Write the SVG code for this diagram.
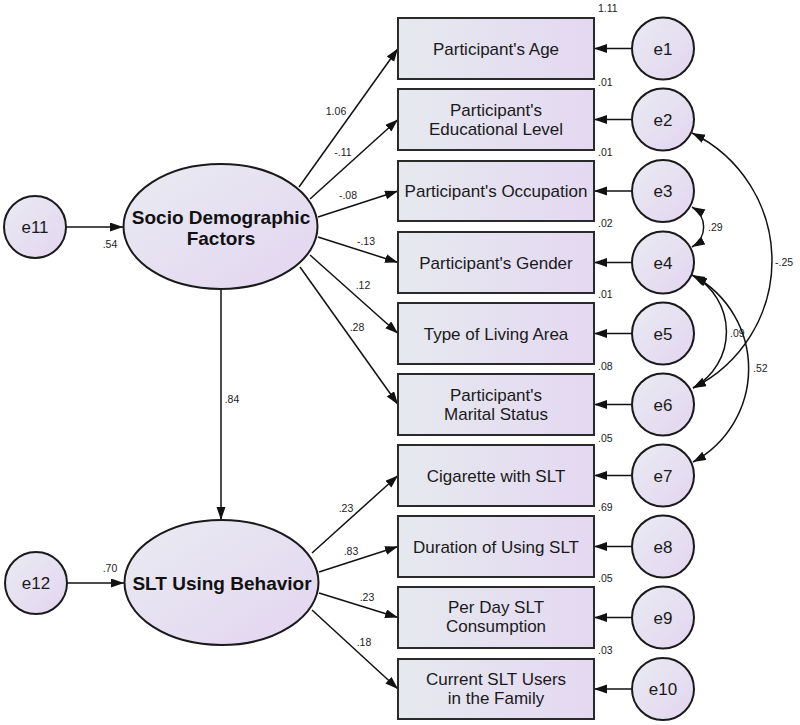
<svg xmlns="http://www.w3.org/2000/svg" width="800" height="725" viewBox="0 0 800 725">
<defs>
<linearGradient id="gBox" x1="0" y1="0" x2="1" y2="0">
<stop offset="0" stop-color="#e6e9ef"/>
<stop offset="1" stop-color="#e4d8f1"/>
</linearGradient>
<linearGradient id="gOv" x1="0" y1="0" x2="1" y2="1">
<stop offset="0" stop-color="#e9ebf2"/>
<stop offset="1" stop-color="#e3d5f0"/>
</linearGradient>
<marker id="ah" markerUnits="userSpaceOnUse" markerWidth="14" markerHeight="10" refX="13" refY="4.5" orient="auto-start-reverse">
<path d="M0,0 L13,4.5 L0,9 z" fill="#111"/>
</marker>
</defs>
<style>
.box{fill:url(#gBox);stroke:#2a2a2a;stroke-width:2}
.ov{fill:url(#gOv);stroke:#1a1a1a;stroke-width:2}
.t{font-family:"Liberation Sans",Arial,sans-serif;font-size:17px;fill:#1a1a1a;text-anchor:middle}
.tb{font-family:"Liberation Sans",Arial,sans-serif;font-size:19px;font-weight:bold;fill:#111;text-anchor:middle}
.n{font-family:"Liberation Sans",Arial,sans-serif;font-size:10.5px;fill:#222;text-anchor:middle}
.r{font-family:"Liberation Sans",Arial,sans-serif;font-size:10.5px;fill:#222;text-anchor:start}
.c{fill:none;stroke:#111;stroke-width:1.5;marker-end:url(#ah)}
.cv{fill:none;stroke:#111;stroke-width:1.5;marker-start:url(#ah);marker-end:url(#ah)}
</style>

<g id="connectors">
<line class="c" x1="66" y1="227" x2="123" y2="227"/>
<line class="c" x1="67" y1="583" x2="124" y2="583"/>
<line class="c" x1="221" y1="289" x2="221" y2="520"/>
<line class="c" x1="299" y1="187" x2="398" y2="48.5"/>
<line class="c" x1="310" y1="199" x2="398" y2="119.5"/>
<line class="c" x1="318" y1="217" x2="398" y2="191"/>
<line class="c" x1="318" y1="237" x2="398" y2="262.5"/>
<line class="c" x1="310" y1="255" x2="398" y2="333.5"/>
<line class="c" x1="300" y1="267" x2="398" y2="404.5"/>
<line class="c" x1="312" y1="553" x2="398" y2="475.5"/>
<line class="c" x1="319" y1="572" x2="398" y2="546.5"/>
<line class="c" x1="319" y1="593" x2="398" y2="617.5"/>
<line class="c" x1="312" y1="610" x2="398" y2="689"/>
<line class="c" x1="632" y1="48.5" x2="594" y2="48.5"/>
<line class="c" x1="632" y1="119.5" x2="594" y2="119.5"/>
<line class="c" x1="632" y1="191" x2="594" y2="191"/>
<line class="c" x1="632" y1="262.5" x2="594" y2="262.5"/>
<line class="c" x1="632" y1="333.5" x2="594" y2="333.5"/>
<line class="c" x1="632" y1="404.5" x2="594" y2="404.5"/>
<line class="c" x1="632" y1="475.5" x2="594" y2="475.5"/>
<line class="c" x1="632" y1="546.5" x2="594" y2="546.5"/>
<line class="c" x1="632" y1="617.5" x2="594" y2="617.5"/>
<line class="c" x1="632" y1="689" x2="594" y2="689"/>
<path class="cv" d="M692,207 A23,23 0 0,1 692,247"/>
<path class="cv" d="M692,133 A142,142 0 0,1 693,388"/>
<path class="cv" d="M692,275 A64,64 0 0,1 693,388"/>
<path class="cv" d="M694,276 A106,106 0 0,1 693,462"/>
</g>

<g id="labels">
<text class="n" x="110" y="248">.54</text>
<text class="n" x="110" y="572">.70</text>
<text class="n" x="232" y="403">.84</text>
<text class="n" x="336" y="115">1.06</text>
<text class="n" x="343" y="156">-.11</text>
<text class="n" x="348" y="199">-.08</text>
<text class="n" x="366" y="245">-.13</text>
<text class="n" x="363" y="289">.12</text>
<text class="n" x="357" y="331">.28</text>
<text class="n" x="346" y="512">.23</text>
<text class="n" x="351" y="555">.83</text>
<text class="n" x="367" y="601">.23</text>
<text class="n" x="364" y="646">.18</text>
<text class="r" x="598" y="12">1.11</text>
<text class="r" x="598" y="86">.01</text>
<text class="r" x="598" y="156">.01</text>
<text class="r" x="598" y="227">.02</text>
<text class="r" x="598" y="298">.01</text>
<text class="r" x="598" y="370">.08</text>
<text class="r" x="598" y="442">.05</text>
<text class="r" x="598" y="511">.69</text>
<text class="r" x="598" y="582">.05</text>
<text class="r" x="598" y="654">.03</text>
<text class="r" x="708" y="231">.29</text>
<text class="r" x="775" y="266">-.25</text>
<text class="r" x="730" y="337">.09</text>
<text class="r" x="753" y="372">.52</text>
</g>

<g id="socio">
<ellipse class="ov" cx="220.5" cy="226.5" rx="97" ry="62.5"/>
<text class="tb" x="221" y="224">Socio Demographic</text>
<text class="tb" x="221" y="245">Factors</text>
</g>
<g id="slt">
<ellipse class="ov" cx="221.5" cy="582.5" rx="97" ry="62.5"/>
<text class="tb" x="222" y="590">SLT Using Behavior</text>
</g>

<g id="e11"><circle class="ov" cx="35" cy="227" r="31"/><text class="t" x="35" y="233">e11</text></g>
<g id="e12"><circle class="ov" cx="36" cy="583" r="31"/><text class="t" x="36" y="589">e12</text></g>

<g id="box1"><rect class="box" x="398" y="18" width="196" height="61"/><text class="t" x="496" y="54.5">Participant's Age</text></g>
<g id="box2"><rect class="box" x="398" y="89" width="196" height="61"/><text class="t" x="496" y="116">Participant's</text><text class="t" x="496" y="135">Educational Level</text></g>
<g id="box3"><rect class="box" x="398" y="161" width="196" height="60"/><text class="t" x="496" y="197">Participant's Occupation</text></g>
<g id="box4"><rect class="box" x="398" y="232" width="196" height="61"/><text class="t" x="496" y="268.5">Participant's Gender</text></g>
<g id="box5"><rect class="box" x="398" y="303" width="196" height="61"/><text class="t" x="496" y="339.5">Type of Living Area</text></g>
<g id="box6"><rect class="box" x="398" y="374" width="196" height="61"/><text class="t" x="496" y="401">Participant's</text><text class="t" x="496" y="420">Marital Status</text></g>
<g id="box7"><rect class="box" x="398" y="445" width="196" height="61"/><text class="t" x="496" y="481.5">Cigarette with SLT</text></g>
<g id="box8"><rect class="box" x="398" y="516" width="196" height="61"/><text class="t" x="496" y="552.5">Duration of Using SLT</text></g>
<g id="box9"><rect class="box" x="398" y="587" width="196" height="61"/><text class="t" x="496" y="613">Per Day SLT</text><text class="t" x="496" y="632">Consumption</text></g>
<g id="box10"><rect class="box" x="398" y="659" width="196" height="60"/><text class="t" x="496" y="685">Current SLT Users</text><text class="t" x="496" y="704">in the Family</text></g>

<g id="e1"><circle class="ov" cx="663" cy="48.5" r="31"/><text class="t" x="663" y="54.5">e1</text></g>
<g id="e2"><circle class="ov" cx="663" cy="119.5" r="31"/><text class="t" x="663" y="125.5">e2</text></g>
<g id="e3"><circle class="ov" cx="663" cy="191" r="31"/><text class="t" x="663" y="197">e3</text></g>
<g id="e4"><circle class="ov" cx="663" cy="262.5" r="31"/><text class="t" x="663" y="268.5">e4</text></g>
<g id="e5"><circle class="ov" cx="663" cy="333.5" r="31"/><text class="t" x="663" y="339.5">e5</text></g>
<g id="e6"><circle class="ov" cx="663" cy="404.5" r="31"/><text class="t" x="663" y="410.5">e6</text></g>
<g id="e7"><circle class="ov" cx="663" cy="475.5" r="31"/><text class="t" x="663" y="481.5">e7</text></g>
<g id="e8"><circle class="ov" cx="663" cy="546.5" r="31"/><text class="t" x="663" y="552.5">e8</text></g>
<g id="e9"><circle class="ov" cx="663" cy="617.5" r="31"/><text class="t" x="663" y="623.5">e9</text></g>
<g id="e10"><circle class="ov" cx="663" cy="689" r="31"/><text class="t" x="663" y="695">e10</text></g>
</svg>
